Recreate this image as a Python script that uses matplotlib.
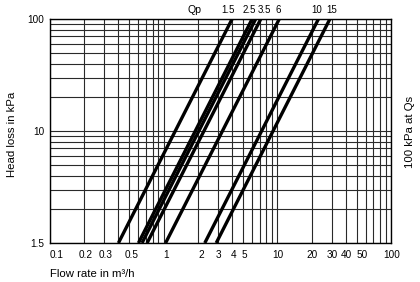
import matplotlib
matplotlib.use("Agg")
import matplotlib.pyplot as plt
import matplotlib.transforms as mtrans
import numpy as np

# Data
qp_labels = ['1.5', '2.5', '3.5', '6', '10', '15']
qp_label_x = [3.68, 5.65, 7.75, 10.2, 22.3, 30.2]   # flow positions of labels
qs_100kpa = [4.0, 6.0, 6.45, 7.15, 10.4, 23.0, 29.0]  # flow (m3/h) at 100 kPa per curve
x_ticks = [0.1, 0.2, 0.3, 0.5, 1, 2, 3, 4, 5, 10, 20, 30, 40, 50, 100]
x_ticklabels = ['0.1', '0.2', '0.3', '0.5', '1', '2', '3', '4', '5', '10', '20', '30', '40', '50', '100']
y_ticks = [1, 10, 100]
y_ticklabels = ['1.5', '10', '100']

plt.rcParams['font.family'] = ['Liberation Sans', 'DejaVu Sans']

fig = plt.figure(figsize=(4.2, 2.82), dpi=100)
ax = fig.add_axes([50/420, 39/282, 341/420, 224/282])
ax.set_xscale('log')
ax.set_yscale('log')
ax.set_xlim(0.1, 100)
ax.set_ylim(1, 100)

# grid
xg = [m * 10.0**e for e in (-1, 0, 1) for m in range(1, 10)] + [100]
yg = [m * 10.0**e for e in (0, 1) for m in range(1, 10)] + [100]
for v in xg:
    ax.axvline(v, color='#2a2a2a', lw=0.8, zorder=1)
for v in yg:
    ax.axhline(v, color='#2a2a2a', lw=0.8, zorder=1)

# curves: dp = 100 * (Q/Qs)^2
for qs in qs_100kpa:
    q = np.array([qs / 10.0, qs])
    dp = 100 * (q / qs) ** 2
    ax.plot(q, dp, color='black', lw=2.4, solid_capstyle='butt', zorder=3)

for s in ax.spines.values():
    s.set_color('black')
    s.set_linewidth(1.0)

ax.set_xticks(x_ticks)
ax.set_xticklabels(x_ticklabels, fontsize=7.2)
ax.xaxis.set_minor_locator(matplotlib.ticker.NullLocator())
ax.set_yticks(y_ticks)
ax.set_yticklabels(y_ticklabels, fontsize=7.2)
ax.yaxis.set_minor_locator(matplotlib.ticker.NullLocator())
ax.tick_params(axis='x', length=0, pad=5)
ax.tick_params(axis='y', length=0, pad=4)

# small per-label nudges (pixels) as in the reference
nudges = {'0.1': 7, '50': 5, '0.5': 2, '1': 2, '2': 3, '100': 1}
for lbl in ax.get_xticklabels():
    dx = nudges.get(lbl.get_text(), 1)
    lbl.set_transform(lbl.get_transform() + mtrans.ScaledTranslation(dx/100, 0, fig.dpi_scale_trans))

fig.text(50/420, 1 - 274/282, 'Flow rate in m³/h', fontsize=8.2, ha='left', va='center')
fig.text(12/420, 1 - 134/282, 'Head loss in kPa', fontsize=8.2, rotation=90, ha='center', va='center')
fig.text(410/420, 1 - 132/282, '100 kPa at Qs', fontsize=8.2, rotation=90, ha='center', va='center')

fig.text(195/420, 1 - 10/282, 'Qp', fontsize=7.6, ha='center', va='center')
for lab, xv in zip(qp_labels, qp_label_x):
    xp = ax.transData.transform((xv, 1))[0] / 420
    fig.text(xp, 1 - 10/282, lab, fontsize=7.0, ha='center', va='center')

fig.savefig('out.png', dpi=100)
